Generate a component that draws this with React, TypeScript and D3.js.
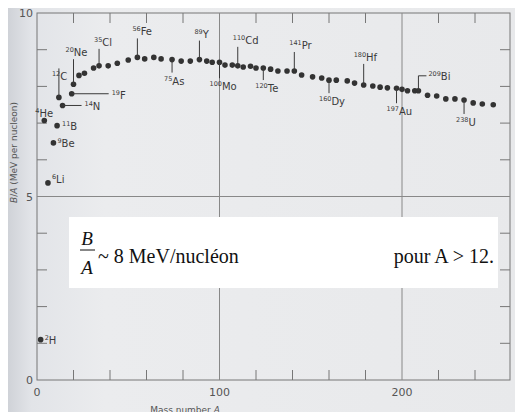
import React from 'react';
import * as d3 from 'd3';

// mass number A and binding energy per nucleon (MeV)
const massNumbers = [2, 4, 6, 9, 11, 12, 14, 19, 20, 23, 26, 31, 34, 39, 44, 50, 55, 59, 64, 68, 74, 79, 84, 89, 93, 96, 100, 103, 107, 110, 113, 117, 120, 124, 128, 132, 137, 141, 145, 151, 156, 160, 164, 170, 174, 179, 184, 188, 192, 197, 200, 203, 207, 209, 214, 219, 224, 229, 234, 239, 244, 250];
const bindingPerNucleon = [1.1, 7.07, 5.37, 6.46, 6.93, 7.7, 7.48, 7.8, 8.06, 8.3, 8.36, 8.5, 8.56, 8.56, 8.63, 8.72, 8.79, 8.75, 8.79, 8.75, 8.73, 8.69, 8.69, 8.73, 8.69, 8.66, 8.66, 8.58, 8.58, 8.56, 8.53, 8.55, 8.5, 8.5, 8.47, 8.42, 8.42, 8.42, 8.31, 8.26, 8.23, 8.17, 8.17, 8.15, 8.09, 8.04, 8.01, 7.98, 7.96, 7.95, 7.92, 7.88, 7.88, 7.88, 7.76, 7.74, 7.66, 7.66, 7.63, 7.55, 7.52, 7.5];

// labelled nuclides: mass superscript, symbol, A of the dot it points at
const labelMass = ['2', '4', '6', '9', '11', '12', '14', '19', '20', '35', '56', '75', '89', '100', '110', '120', '141', '160', '180', '197', '209', '238'];
const labelSymbol = ['H', 'He', 'Li', 'Be', 'B', 'C', 'N', 'F', 'Ne', 'Cl', 'Fe', 'As', 'Y', 'Mo', 'Cd', 'Te', 'Pr', 'Dy', 'Hf', 'Au', 'Bi', 'U'];
const labelDotA = [2, 4, 6, 9, 11, 12, 14, 19, 20, 34, 55, 74, 89, 100, 110, 124, 141, 160, 179, 197, 209, 234];
// label placement: [dx, dy] from dot in px, leader type
const labelLayout: [number, number, string][] = [
  [4, 4, 'none'], [-9, -4, 'none'], [4, 0, 'none'], [4, 4, 'none'], [5, 4, 'none'],
  [-7, -17, 'down'], [22, 5, 'right'], [40, 4, 'right'], [-8, -28, 'up'], [-5, -20, 'up'],
  [-5, -22, 'up'], [-8, 25, 'down'], [-5, -22, 'up'], [-10, 28, 'down'], [-5, -22, 'up'],
  [-8, 24, 'down'], [-5, -22, 'up'], [-10, 25, 'down'], [-10, -24, 'up'], [-10, 27, 'down'], [10, -20, 'bracket'], [-8, 26, 'down'],
];

const W = 523, H = 420;
const x = d3.scaleLinear().domain([0, 100]).range([37, 219.5]);
const y = d3.scaleLinear().domain([0, 10]).range([380, 13]);

export default function App() {
  const ink = '#3a3a3a';
  const xMax = x.invert(510);
  const minorX = d3.range(20, xMax, 20).filter(v => v % 100 !== 0);
  const minorY = d3.range(1, 10).filter(v => v !== 5);
  const pts = massNumbers.map((a, i) => ({ a, v: bindingPerNucleon[i] }));
  const find = (a: number) => pts.find(p => p.a === a)!;

  return (
    <div style={{ margin: -8 }}>
      <svg width={W} height={H} style={{ display: 'block' }} fontFamily="'DejaVu Sans', sans-serif">
        <defs>
          <linearGradient id="paper" x1="0" x2="1" y1="0" y2="0">
            <stop offset="0" stopColor="#c9ccd2" />
            <stop offset="0.06" stopColor="#e2e4e8" />
            <stop offset="0.2" stopColor="#ebecee" />
            <stop offset="1" stopColor="#e8e9eb" />
          </linearGradient>
        </defs>
        <rect width={W} height={H} fill="url(#paper)" />
        {/* frame */}
        <rect x={x(0)} y={y(10)} width={510 - x(0)} height={y(0) - y(10)} fill="none" stroke="#777" strokeWidth={1} />
        {[100, 200].map(v => <line key={v} x1={x(v)} x2={x(v)} y1={y(10)} y2={y(0)} stroke="#888" />)}
        <line x1={x(0)} x2={510} y1={y(5)} y2={y(5)} stroke="#888" />
        {minorX.map(v => (
          <g key={v} stroke="#777">
            <line x1={x(v)} x2={x(v)} y1={y(0)} y2={y(0) - 10} />
            <line x1={x(v)} x2={x(v)} y1={y(10)} y2={y(10) + 10} />
          </g>
        ))}
        {minorY.map(v => (
          <g key={v} stroke="#777">
            <line x1={x(0)} x2={x(0) + 10} y1={y(v)} y2={y(v)} />
            <line x1={510} x2={500} y1={y(v)} y2={y(v)} />
          </g>
        ))}
        {[0, 5, 10].map(v => (
          <text key={v} x={x(0) - 4} y={y(v) + 4} textAnchor="end" fontSize={11} fill="#555">{v}</text>
        ))}
        {[0, 100, 200].map(v => (
          <text key={v} x={x(v)} y={y(0) + 16} textAnchor="middle" fontSize={11} fill="#555">{v}</text>
        ))}
        <text x={185} y={413} textAnchor="middle" fontSize={9} fill="#555">Mass number <tspan fontStyle="italic">A</tspan></text>
        <text transform={`translate(17,${y(6.2)}) rotate(-90)`} textAnchor="middle" fontSize={9} fill="#555">
          <tspan fontStyle="italic">B</tspan>/<tspan fontStyle="italic">A</tspan> (MeV per nucleon)
        </text>
        {/* dots */}
        {pts.map(p => <circle key={p.a} cx={x(p.a)} cy={y(p.v)} r={2.8} fill="#333" />)}
        {/* labels */}
        {labelMass.map((m, i) => {
          const p = find(labelDotA[i]);
          const px = x(p.a), py = y(p.v);
          const [dx, dy, kind] = labelLayout[i];
          let lx = px + dx, ly = py + dy;
          let leader: React.ReactNode = null;
          if (kind === 'up') leader = <line x1={px} x2={px} y1={py} y2={py + dy + 3} stroke={ink} />;
          if (kind === 'down') leader = <line x1={px} x2={px} y1={py} y2={py + dy - 12} stroke={ink} />;
          if (kind === 'right') {
            leader = <line x1={px} x2={px + dx - 3} y1={py} y2={py} stroke={ink} />;
            ly = py + 5;
          }
          if (kind === 'bracket') {
            leader = <path d={`M${px},${py} V${py - 15} H${px + dx - 2}`} fill="none" stroke={ink} />;
            ly = py - 11;
          }
          if (kind === 'none') ly = py + dy;
          return (
            <g key={i}>
              {leader}
              <text x={lx} y={ly} fontSize={10} fill={ink}>
                <tspan fontSize={6.5} dy={-4}>{m}</tspan>
                <tspan dy={4}>{labelSymbol[i]}</tspan>
              </text>
            </g>
          );
        })}
        {/* overlay formula box */}
        <rect x={69} y={217} width={429} height={71} fill="#fff" />
        <g fontFamily="'Liberation Serif', 'Times New Roman', serif" fill="#111">
          <text x={87} y={245} fontSize={19} fontStyle="italic" textAnchor="middle">B</text>
          <line x1={80} x2={95} y1={250} y2={250} stroke="#111" strokeWidth={1} />
          <text x={87} y={274} fontSize={19} fontStyle="italic" textAnchor="middle">A</text>
          <text x={98} y={263} fontSize={20}>~ 8 MeV/nucléon</text>
          <text x={494} y={263} fontSize={20} textAnchor="end">pour A &gt; 12.</text>
        </g>
      </svg>
    </div>
  );
}
